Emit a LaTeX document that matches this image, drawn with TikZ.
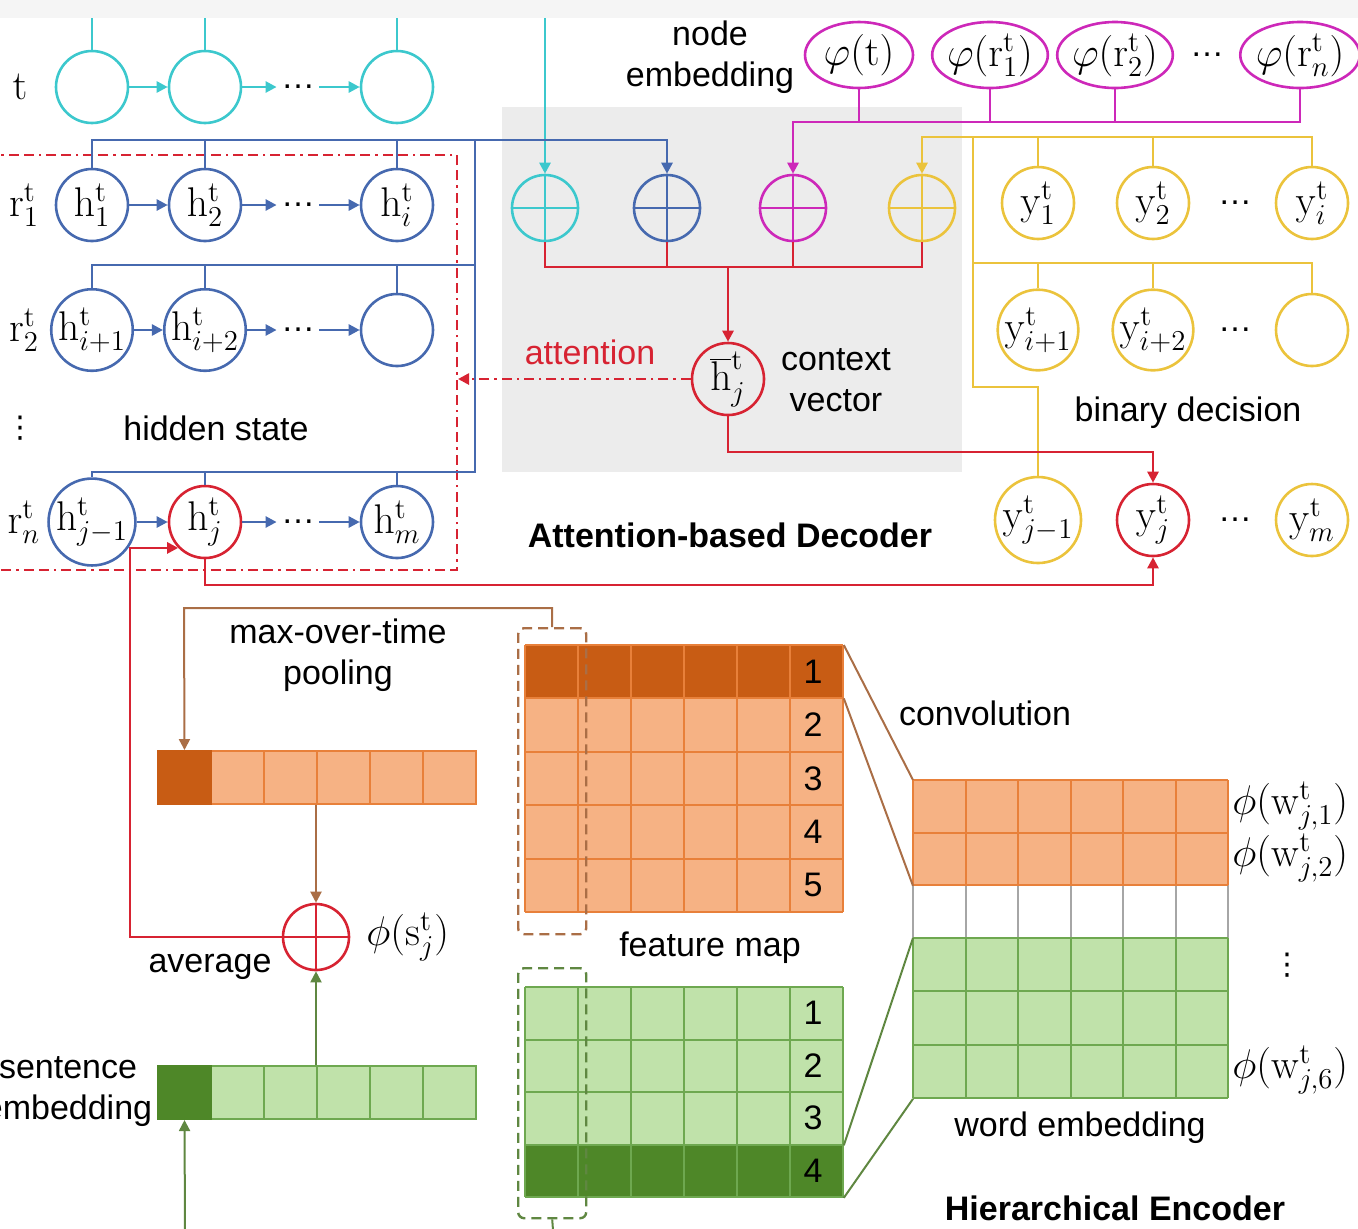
\documentclass[tikz,border=0pt]{standalone}
\usepackage[no-math]{fontspec}
\setmainfont{Liberation Sans}
\newfontfamily\dejavu{DejaVu Sans}
\usetikzlibrary{arrows.meta,positioning,calc,shapes.geometric}

\definecolor{tcyan}{RGB}{60,200,205}
\definecolor{tblue}{RGB}{70,105,175}
\definecolor{tmag}{RGB}{205,40,185}
\definecolor{tgold}{RGB}{235,195,60}
\definecolor{tred}{RGB}{215,35,50}
\definecolor{olight}{RGB}{246,178,132}
\definecolor{odark}{RGB}{200,92,20}
\definecolor{oline}{RGB}{232,128,58}
\definecolor{obrown}{RGB}{170,110,70}
\definecolor{glight}{RGB}{192,226,170}
\definecolor{gdark}{RGB}{78,135,40}
\definecolor{gline}{RGB}{110,168,80}
\definecolor{gbrown}{RGB}{95,135,65}
\definecolor{boxgrey}{RGB}{236,236,236}

\newcommand{\hlab}[1]{$\mathrm{h}^{\mathrm{t}}_{#1}$}
\newcommand{\ylab}[1]{$\mathrm{y}^{\mathrm{t}}_{#1}$}
\newcommand{\rlab}[1]{$\mathrm{r}^{\mathrm{t}}_{#1}$}
\newcommand{\philab}[1]{$\varphi\biggl(#1\biggr)$}
\newcommand{\wlab}[1]{$\phi\biggl(\mathrm{w}^{\mathrm{t}}_{#1}\biggr)$}
\newcommand{\vdotsym}{{\dejavu\fontsize{15}{15}\selectfont ⋮}}

\begin{document}
\begin{tikzpicture}[x=0.5pt, y=-0.5pt,
    every node/.style={font=\fontsize{17}{20.5}\selectfont, align=center},
    mfont/.style={font=\fontsize{20}{20}\selectfont},
    unit/.style={shape=circle, draw=#1, line width=1.3pt, minimum size=36pt, inner sep=0pt, mfont},
    sumnode/.style={shape=circle, draw=#1, color=#1, line width=1.3pt, minimum size=33pt, inner sep=0pt,
      path picture={\draw[line width=1.3pt] (path picture bounding box.north) -- (path picture bounding box.south)
        (path picture bounding box.west) -- (path picture bounding box.east);}},
    embnode/.style={shape=ellipse, draw=tmag, line width=1.3pt, minimum width=54pt, minimum height=33pt, inner sep=-1pt, mfont},
    dotsnode/.style={inner sep=2pt},
    wire/.style={line width=1.3pt, color=#1},
    thinwire/.style={line width=1pt, color=#1},
    arr/.style={-{Triangle[length=5.5pt,width=5.5pt]}},
    cellrow/.style={anchor=north west, inner sep=0pt, draw=none},
    vcell/.style={draw=#1, line width=1pt, minimum width=26.5pt, minimum height=26.5pt, inner sep=0pt, anchor=north west},
    dbox/.style={draw=#1, dash pattern=on 5pt off 3pt, line width=1.2pt, rounded corners=3pt, inner sep=0pt,
      minimum width=34pt, anchor=north west},
  ]
  \useasboundingbox (0,0) rectangle (1358,1228);

  % backgrounds
  \fill[black!4] (0,0) rectangle (1358,18);
  \fill[boxgrey] (502,107) rectangle (962,472);
  \draw[tred, line width=1.3pt, dash pattern=on 5pt off 2.5pt on 5pt off 2.5pt on 1.2pt off 2.5pt]
    (-10,155) rectangle (457,570);

  % row t
  \node[mfont] (tname) at (20,87) {$\mathrm{t}$};
  \node[unit=tcyan] (t1) at (92,87) {};
  \node[unit=tcyan] (t2) at (205,87) {};
  \node[dotsnode] (tdots) at (298,87) {\dots};
  \node[unit=tcyan] (t3) at (397,87) {};
  \foreach \n in {t1,t2,t3} {
    \coordinate (\n in) at (\n |- 0,18);
    \draw[wire=tcyan] (\n in) -- (\n.north);
  }

  % hidden state rows
  \node[mfont] (ra) at (24,205) {\rlab{1}};
  \node[unit=tblue] (ha1) at (92,205) {\hlab{1}};
  \node[unit=tblue] (ha2) at (205,205) {\hlab{2}};
  \node[dotsnode] (hadots) at (298,205) {\dots};
  \node[unit=tblue] (ha3) at (397,205) {\hlab{i}};

  \node[mfont] (rb) at (24,330) {\rlab{2}};
  \node[unit=tblue] (hb1) at (92,330) {\hlab{i+1}};
  \node[unit=tblue] (hb2) at (205,330) {\hlab{i+2}};
  \node[dotsnode] (hbdots) at (298,330) {\dots};
  \node[unit=tblue] (hb3) at (397,330) {};

  \node (rdots) at (20,428) {\vdotsym};
  \node (hidtext) at (216,428) {hidden state};

  \node[mfont] (rc) at (24,522) {\rlab{n}};
  \node[unit=tblue] (hc1) at (92,522) {\hlab{j-1}};
  \node[unit=tred] (hc2) at (205,522) {\hlab{j}};
  \node[dotsnode] (hcdots) at (298,522) {\dots};
  \node[unit=tblue] (hc3) at (397,522) {\hlab{m}};

  \foreach \a/\b in {t1/t2, t2/tdots, tdots/t3}
    \draw[wire=tcyan, arr] (\a) -- (\b);
  \foreach \a/\b in {ha1/ha2, ha2/hadots, hadots/ha3, hb1/hb2, hb2/hbdots, hbdots/hb3, hc1/hc2, hc2/hcdots, hcdots/hc3}
    \draw[wire=tblue, arr] (\a) -- (\b);

  % blue bus
  \coordinate (bus1) at (475,140);
  \coordinate (bus2) at (475,265);
  \coordinate (bus3) at (475,472);
  \draw[wire=tblue] (ha1.north) |- (bus1) -- (bus3) -| (hc1.north);
  \draw[wire=tblue] (hb1.north) |- (bus2);
  \foreach \n in {ha2,ha3} \draw[wire=tblue] (\n.north) -- (\n.north |- bus1);
  \foreach \n in {hb2,hb3} \draw[wire=tblue] (\n.north) -- (\n.north |- bus2);
  \foreach \n in {hc2,hc3} \draw[wire=tblue] (\n.north) -- (\n.north |- bus3);

  % sums of the decoder
  \node[sumnode=tcyan] (sumc) at (545,208) {};
  \node[sumnode=tblue] (sumb) at (667,208) {};
  \node[sumnode=tmag] (summ) at (793,208) {};
  \node[sumnode=tgold] (sumg) at (922,208) {};
  \coordinate (cin) at (545,18);
  \draw[wire=tcyan, arr] (cin) -- (sumc.north);
  \draw[wire=tblue, arr] (bus1) -| (sumb.north);

  % node embedding
  \node (nodeemb) at (710,57) {node\\embedding};
  \node[embnode] (phit) at (859,55) {\philab{\mathrm{t}}};
  \node[embnode] (phir1) at (990,55) {\philab{\mathrm{r}^{\mathrm{t}}_{1}}};
  \node[embnode] (phir2) at (1115,55) {\philab{\mathrm{r}^{\mathrm{t}}_{2}}};
  \node[dotsnode] (phidots) at (1207,55) {\dots};
  \node[embnode] (phirn) at (1300,55) {\philab{\mathrm{r}^{\mathrm{t}}_{n}}};
  \coordinate (mbus) at (793,122);
  \draw[wire=tmag, arr] (phirn.south) |- (mbus) -- (summ.north);
  \foreach \n in {phit,phir1,phir2} \draw[wire=tmag] (\n.south) -- (\n.south |- mbus);

  % binary decision
  \node[unit=tgold] (ya1) at (1038,203) {\ylab{1}};
  \node[unit=tgold] (ya2) at (1153,203) {\ylab{2}};
  \node[dotsnode] (yadots) at (1235,203) {\dots};
  \node[unit=tgold] (ya3) at (1312,203) {\ylab{i}};

  \node[unit=tgold] (yb1) at (1038,330) {\ylab{i+1}};
  \node[unit=tgold] (yb2) at (1153,330) {\ylab{i+2}};
  \node[dotsnode] (ybdots) at (1235,330) {\dots};
  \node[unit=tgold] (yb3) at (1312,330) {};

  \node (bintext) at (1188,413) {binary decision};

  \node[unit=tgold] (yc1) at (1038,520) {\ylab{j-1}};
  \node[unit=tred] (yc2) at (1153,520) {\ylab{j}};
  \node[dotsnode] (ycdots) at (1235,520) {\dots};
  \node[unit=tgold] (yc3) at (1312,520) {\ylab{m}};

  \coordinate (ga) at (922,137);
  \coordinate (gb) at (973,263);
  \coordinate (gc) at (973,387);
  \draw[wire=tgold, arr] (ya3.north) |- (ga) -- (sumg.north);
  \draw[wire=tgold] (ga -| gb) -- (gc) -| (yc1.north);
  \draw[wire=tgold] (yb3.north) |- (gb);
  \foreach \n in {ya1,ya2} \draw[wire=tgold] (\n.north) -- (\n.north |- ga);
  \foreach \n in {yb1,yb2} \draw[wire=tgold] (\n.north) -- (\n.north |- gb);

  % context vector and attention
  \node[unit=tred] (ctx) at (728,379) {$\overline{\mathrm{h}}^{\mathrm{t}}_{j}$};
  \node (ctxtext) at (836,380) {context\\vector};
  \coordinate (rbus) at (728,267);
  \draw[wire=tred] (sumc.south) |- (rbus -| sumg) -- (sumg.south);
  \foreach \n in {sumb,summ} \draw[wire=tred] (\n.south) -- (\n.south |- rbus);
  \draw[wire=tred, arr] (rbus) -- (ctx.north);

  \coordinate (attnend) at (458,379);
  \draw[wire=tred, arr, dash pattern=on 5pt off 2.5pt on 1.2pt off 2.5pt] (ctx.west) -- (ctx.west -| attnend);
  \node[text=tred] (attn) at (590,352) {attention};

  \coordinate (ca) at (1153,452);
  \draw[wire=tred, arr] (ctx.south) |- (ca) -- (yc2.north);
  \coordinate (cb) at (1153,585);
  \draw[wire=tred, arr] (hc2.south) |- (cb) -- (yc2.south);

  \node[font=\fontsize{17}{20}\selectfont\bfseries] (dectext) at (730,535) {Attention-based Decoder};

  % feature map (orange)
  \node[cellrow, fill=olight, minimum width=159pt, minimum height=133.5pt] (omap) at (525,645) {};
  \fill[odark] (omap.north west) rectangle ($(omap.north east)+(0,53.4)$);
  \foreach \i in {0,...,6} \draw[oline, line width=1pt] (525+53*\i,645) -- ++(0,267);
  \foreach \j in {0,...,5} \draw[oline, line width=1pt] (525,645+53.4*\j) -- ++(318,0);
  \foreach \k in {1,...,5} \node (onum\k) at (813,671.7+53.4*\k-53.4) {\k};
  \node[dbox=obrown, minimum height=153pt] (obox) at (517,627) {};

  % feature map (green)
  \node[cellrow, fill=glight, minimum width=159pt, minimum height=105pt] (gmap) at (525,987) {};
  \fill[gdark] ($(gmap.south west)+(0,-52.5)$) rectangle (gmap.south east);
  \foreach \i in {0,...,6} \draw[gline, line width=1pt] (525+53*\i,987) -- ++(0,210);
  \foreach \j in {0,...,4} \draw[gline, line width=1pt] (525,987+52.5*\j) -- ++(318,0);
  \foreach \k in {1,...,4} \node (gnum\k) at (813,1013+52.5*\k-52.5) {\k};
  \node[dbox=gbrown, minimum height=125pt] (gbox) at (517,967) {};
  \coordinate (gin) at (553,1230);
  \draw[thinwire=gbrown] (gbox.south) -- (gin);

  \node (fmtext) at (710,948) {feature map};

  % word embedding
  \node[cellrow, fill=olight, minimum width=157.5pt, minimum height=52.5pt] (wtop) at (913,780) {};
  \node[cellrow, fill=white, minimum width=157.5pt, minimum height=26.5pt] (wmid) at (913,885) {};
  \node[cellrow, fill=glight, minimum width=157.5pt, minimum height=80pt] (wbot) at (913,938) {};
  \foreach \i in {0,...,6} {
    \draw[oline, line width=1pt] (913+52.5*\i,780) -- ++(0,105);
    \draw[black!35, line width=1pt] (913+52.5*\i,885) -- ++(0,53);
    \draw[gline, line width=1pt] (913+52.5*\i,938) -- ++(0,160);
  }
  \foreach \j in {0,...,2} \draw[oline, line width=1pt] (913,780+52.5*\j) -- ++(315,0);
  \foreach \j in {0,...,3} \draw[gline, line width=1pt] (913,938+53.33*\j) -- ++(315,0);

  \draw[thinwire=obrown] (omap.north east) -- (wtop.north west);
  \draw[thinwire=obrown] ($(omap.north east)+(0,53.4)$) -- (wtop.south west);
  \draw[thinwire=gbrown] ($(gmap.south east)+(0,-52.5)$) -- (wbot.north west);
  \draw[thinwire=gbrown] (gmap.south east) -- (wbot.south west);

  \node (convtext) at (985,713) {convolution};
  \node[mfont, anchor=west, inner sep=1pt] (w1) at (1230,806) {\wlab{j,1}};
  \node[mfont, anchor=west, inner sep=1pt] (w2) at (1230,858) {\wlab{j,2}};
  \node (wdots) at (1287,965) {\vdotsym};
  \node[mfont, anchor=west, inner sep=1pt] (w6) at (1230,1070) {\wlab{j,6}};
  \node (wetext) at (1080,1128) {word embedding};
  \node[font=\fontsize{17}{20}\selectfont\bfseries] (enctext) at (1115,1208) {Hierarchical Encoder};

  % pooled vector and sentence vector
  \foreach \i in {1,...,6} \node[vcell=oline, fill=olight] (p\i) at (157+53*\i-53,750) {};
  \node[vcell=odark, fill=odark] (p1) at (157,750) {};
  \foreach \i in {1,...,6} \node[vcell=gline, fill=glight] (s\i) at (157+53*\i-53,1065) {};
  \node[vcell=gdark, fill=gdark] (s1) at (157,1065) {};

  \node (pooltext) at (338,655) {max-over-time\\pooling};
  \coordinate (cd) at (184,608);
  \draw[thinwire=obrown, arr] (obox.north) |- (cd) -- (p1.north);

  \node[sumnode=tred] (avg) at (316,937) {};
  \node (avgtext) at (210,967) {average};
  \node[mfont, anchor=west, inner sep=1pt] (slab) at (364,937) {$\phi\biggl(\mathrm{s}^{\mathrm{t}}_{j}\biggr)$};
  \draw[thinwire=obrown, arr] (p4.south west) -- (avg.north);
  \draw[thinwire=gbrown, arr] (s4.north west) -- (avg.south);
  \coordinate (ce) at (130,547);
  \draw[wire=tred, arr] (avg.west) -| (ce |- hc2.224) -- (hc2.224);

  \node (senttext) at (68,1092) {sentence\\embedding};
  \coordinate (sin) at (185,1230);
  \draw[thinwire=gbrown, arr] (sin) -- (s1.south);
\end{tikzpicture}
\end{document}
